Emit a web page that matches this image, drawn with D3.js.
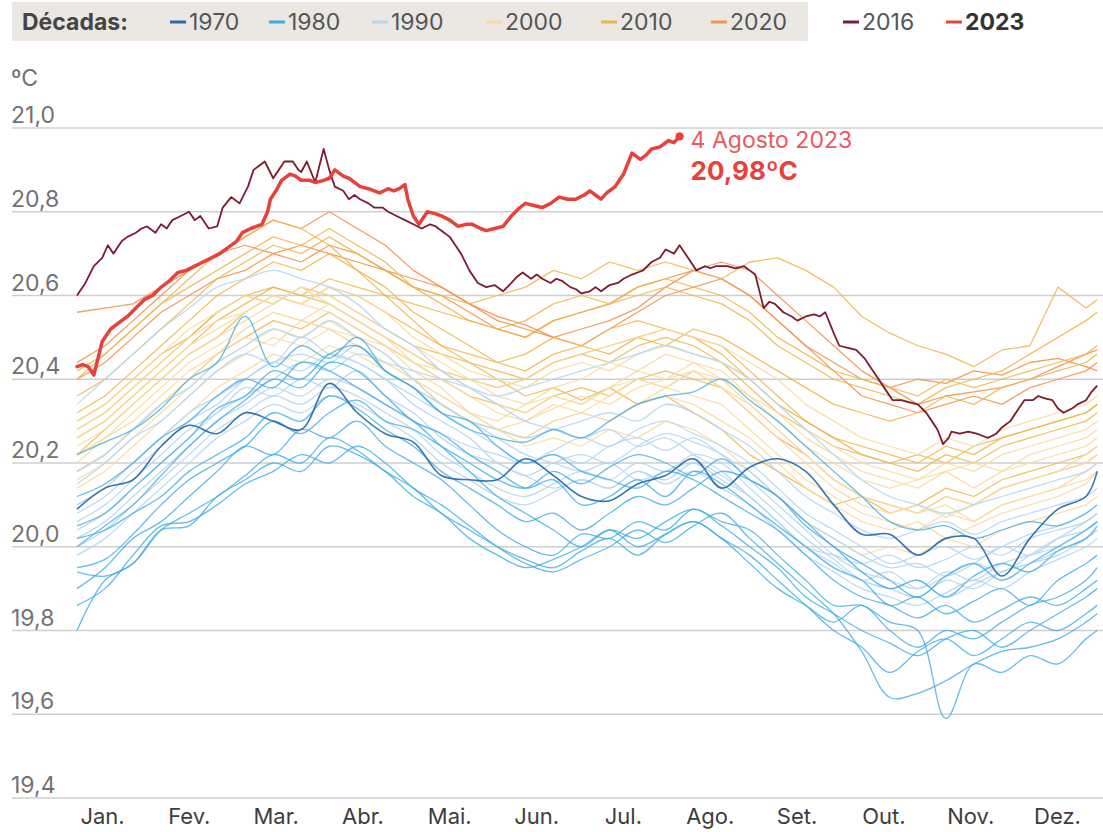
<!DOCTYPE html>
<html><head><meta charset="utf-8">
<script src="https://cdn.jsdelivr.net/npm/d3@7"></script>
<style>
body{margin:0;background:#fff;}
svg{display:block;font-family:Inter,"Noto Sans",sans-serif;}
</style></head><body>
<svg id="chart" width="1103" height="832"></svg>
<script>
// ---------- DATA ----------
const gridDays = [0,10,20,30,40,50,60,70,80,90,100,110,120,130,140,150,160,170,180,190,200,210,220,230,240,250,260,270,280,290,300,310,320,330,340,350,360,364];
const months = ["Jan.","Fev.","Mar.","Abr.","Mai.","Jun.","Jul.","Ago.","Set.","Out.","Nov.","Dez."];
const yTicks = [19.4,19.6,19.8,20.0,20.2,20.4,20.6,20.8,21.0];
const legendDecades = ["1970","1980","1990","2000","2010","2020"];
const legendHighlights = ["2016","2023"];

const temps1970s = [
 [20.09,20.14,20.16,20.24,20.29,20.27,20.32,20.30,20.28,20.39, 20.32,20.27,20.25,20.17,20.16,20.16,20.21,20.17,20.12,20.11, 20.15,20.17,20.21,20.14,20.19,20.21,20.18,20.10,20.03,20.03, 19.98,20.02,20.02,19.93,20.02,20.09,20.12,20.18]
];
const temps1980s = [
 [20.00,20.05,20.10,20.17,20.24,20.30,20.35,20.40,20.38,20.44, 20.42,20.36,20.30,20.27,20.22,20.18,20.14,20.16,20.10,20.12, 20.16,20.12,20.18,20.15,20.10,20.05,20.00,19.95,19.92,19.86, 19.88,19.84,19.87,19.90,19.86,19.92,19.96,19.98],
 [19.90,19.95,20.02,20.06,20.12,20.18,20.24,20.22,20.28,20.26, 20.30,20.24,20.20,20.16,20.10,20.04,20.00,19.98,20.03,20.02, 20.06,20.04,20.09,20.05,20.00,19.95,19.88,19.84,19.80,19.77, 19.74,19.78,19.80,19.76,19.80,19.84,19.88,19.90],
 [19.95,19.97,20.03,20.10,20.16,20.20,20.24,20.30,20.27,20.32, 20.35,20.30,20.28,20.24,20.20,20.16,20.14,20.18,20.15,20.19, 20.22,20.20,20.17,20.21,20.16,20.12,20.05,20.00,19.94,19.90, 19.92,19.88,19.93,19.96,19.94,19.99,20.02,20.05],
 [20.22,20.25,20.28,20.33,20.40,20.44,20.55,20.43,20.48,20.45, 20.50,20.42,20.38,20.32,20.30,20.24,20.20,20.22,20.18,20.16, 20.14,20.18,20.16,20.12,20.08,20.04,19.98,19.92,19.88,19.86, 19.83,19.86,19.82,19.85,19.88,19.86,19.90,19.92],
 [19.94,19.93,19.96,20.04,20.08,20.12,20.17,20.22,20.20,20.26, 20.23,20.18,20.14,20.08,20.04,20.00,19.97,19.95,19.99,20.02, 19.98,20.03,20.06,20.02,19.98,19.92,19.86,19.80,19.76,19.70, 19.75,19.78,19.74,19.78,19.82,19.80,19.84,19.86],
 [19.86,19.90,19.98,20.05,20.06,20.10,20.15,20.18,20.22,20.20, 20.24,20.20,20.14,20.10,20.05,20.00,19.96,19.94,19.97,20.00, 20.04,20.01,20.05,20.08,20.02,19.96,19.90,19.84,19.75,19.64, 19.65,19.68,19.72,19.75,19.76,19.78,19.82,19.84],
 [20.02,20.04,20.08,20.12,20.18,20.22,20.26,20.32,20.30,20.36, 20.33,20.28,20.24,20.18,20.14,20.10,20.06,20.08,20.04,20.08, 20.12,20.10,20.14,20.18,20.16,20.12,20.06,20.00,19.96,19.92, 19.88,19.93,19.96,19.92,19.96,20.00,20.04,20.06],
 [20.05,20.08,20.14,20.20,20.26,20.33,20.36,20.42,20.40,20.46, 20.48,20.42,20.38,20.32,20.28,20.26,20.25,20.28,20.26,20.30, 20.34,20.36,20.37,20.40,20.35,20.30,20.24,20.18,20.12,20.06, 20.04,20.05,20.02,20.04,20.06,20.05,20.08,20.10],
 [20.12,20.15,20.20,20.26,20.30,20.36,20.40,20.38,20.44,20.42, 20.38,20.34,20.30,20.24,20.18,20.12,20.08,20.04,20.00,20.04, 20.00,20.03,20.06,20.02,19.96,19.90,19.86,19.82,19.86,19.80, 19.76,19.80,19.78,19.82,19.86,19.88,19.92,19.95],
 [19.80,19.92,19.96,20.04,20.05,20.12,20.16,20.20,20.18,20.24, 20.22,20.18,20.12,20.08,20.02,19.98,19.95,19.97,20.00,20.04, 20.02,20.06,20.09,20.06,20.04,19.98,19.92,19.86,19.86,19.82, 19.80,19.59,19.72,19.70,19.74,19.72,19.78,19.80]
];
const temps1990s = [
 [20.10,20.14,20.20,20.26,20.32,20.36,20.40,20.44,20.42,20.46, 20.44,20.40,20.36,20.32,20.28,20.24,20.20,20.22,20.20,20.24, 20.26,20.23,20.26,20.22,20.18,20.12,20.06,20.02,19.98,19.95, 19.96,19.93,19.96,20.00,19.98,20.02,20.06,20.08],
 [20.06,20.10,20.16,20.22,20.28,20.32,20.38,20.36,20.40,20.38, 20.42,20.36,20.32,20.26,20.22,20.20,20.17,20.20,20.22,20.20, 20.24,20.27,20.25,20.22,20.16,20.10,20.04,19.98,19.94,19.92, 19.90,19.94,19.92,19.96,19.98,20.00,20.04,20.06],
 [20.15,20.20,20.26,20.30,20.36,20.42,20.46,20.44,20.50,20.46, 20.44,20.40,20.34,20.30,20.26,20.20,20.17,20.14,20.16,20.14, 20.18,20.15,20.18,20.14,20.10,20.04,19.98,19.94,19.90,19.88, 19.86,19.89,19.92,19.90,19.94,19.97,20.00,20.02],
 [20.02,20.06,20.12,20.18,20.24,20.30,20.34,20.38,20.36,20.40, 20.38,20.34,20.30,20.27,20.24,20.22,20.20,20.23,20.26,20.24, 20.28,20.30,20.27,20.24,20.20,20.14,20.08,20.04,20.00,19.96, 19.98,20.00,19.97,20.00,20.03,20.05,20.08,20.10],
 [20.08,20.12,20.18,20.24,20.30,20.34,20.40,20.44,20.46,20.44, 20.48,20.42,20.38,20.34,20.30,20.28,20.26,20.28,20.30,20.32, 20.30,20.34,20.32,20.28,20.24,20.18,20.12,20.08,20.04,20.02, 20.04,20.06,20.03,20.06,20.08,20.10,20.12,20.14],
 [20.18,20.22,20.28,20.34,20.38,20.44,20.48,20.52,20.50,20.54, 20.50,20.46,20.40,20.34,20.30,20.26,20.22,20.20,20.18,20.20, 20.16,20.18,20.20,20.16,20.12,20.06,20.00,19.96,19.92,19.94, 19.90,19.93,19.96,19.94,19.98,20.02,20.04,20.06],
 [20.00,20.04,20.10,20.16,20.22,20.28,20.32,20.36,20.34,20.38, 20.36,20.32,20.28,20.22,20.18,20.14,20.12,20.15,20.18,20.16, 20.20,20.18,20.22,20.20,20.14,20.08,20.02,19.97,19.92,19.90, 19.88,19.92,19.90,19.94,19.96,19.98,20.02,20.04],
 [20.04,20.08,20.14,20.20,20.26,20.32,20.36,20.40,20.44,20.42, 20.46,20.44,20.42,20.40,20.38,20.36,20.38,20.40,20.42,20.44, 20.46,20.48,20.46,20.44,20.40,20.34,20.28,20.22,20.16,20.12, 20.10,20.08,20.10,20.12,20.14,20.16,20.18,20.20],
 [20.34,20.40,20.46,20.52,20.57,20.62,20.64,20.66,20.64,20.62, 20.58,20.52,20.48,20.42,20.38,20.34,20.30,20.28,20.26,20.28, 20.24,20.26,20.22,20.18,20.12,20.06,20.00,19.98,19.96,19.98, 19.95,19.97,20.00,19.98,20.02,20.04,20.06,20.08],
 [19.98,20.02,20.08,20.14,20.20,20.26,20.30,20.34,20.32,20.36, 20.34,20.30,20.26,20.20,20.16,20.12,20.10,20.13,20.16,20.14, 20.18,20.16,20.20,20.17,20.12,20.06,20.00,19.95,19.92,19.90, 19.92,19.88,19.91,19.94,19.96,19.99,20.02,20.04]
];
const temps2000s = [
 [20.18,20.22,20.28,20.34,20.40,20.46,20.50,20.48,20.54,20.52, 20.48,20.44,20.40,20.34,20.30,20.28,20.26,20.30,20.32,20.30, 20.34,20.36,20.34,20.30,20.26,20.20,20.14,20.10,20.06,20.04, 20.06,20.02,20.05,20.08,20.10,20.12,20.15,20.18],
 [20.20,20.26,20.30,20.36,20.42,20.46,20.52,20.56,20.54,20.58, 20.54,20.50,20.46,20.42,20.38,20.34,20.32,20.36,20.34,20.38, 20.40,20.38,20.42,20.38,20.34,20.28,20.22,20.16,20.12,20.10, 20.08,20.12,20.10,20.14,20.16,20.18,20.22,20.24],
 [20.26,20.30,20.36,20.42,20.48,20.52,20.56,20.60,20.58,20.62, 20.60,20.56,20.50,20.46,20.42,20.40,20.38,20.42,20.44,20.42, 20.46,20.48,20.46,20.44,20.40,20.34,20.28,20.24,20.20,20.18, 20.16,20.20,20.18,20.22,20.24,20.26,20.28,20.30],
 [20.30,20.34,20.40,20.46,20.52,20.56,20.60,20.58,20.62,20.58, 20.54,20.50,20.44,20.40,20.36,20.32,20.30,20.33,20.36,20.34, 20.38,20.40,20.42,20.38,20.32,20.26,20.20,20.14,20.10,20.08, 20.10,20.07,20.10,20.14,20.16,20.18,20.20,20.22],
 [20.22,20.26,20.32,20.38,20.44,20.48,20.52,20.56,20.54,20.52, 20.48,20.44,20.40,20.36,20.32,20.30,20.34,20.36,20.34,20.38, 20.42,20.40,20.44,20.42,20.36,20.30,20.24,20.20,20.16,20.14, 20.16,20.18,20.14,20.18,20.20,20.22,20.24,20.26],
 [20.24,20.28,20.34,20.40,20.46,20.50,20.54,20.58,20.62,20.60, 20.56,20.52,20.48,20.44,20.40,20.36,20.34,20.38,20.40,20.44, 20.42,20.46,20.44,20.40,20.34,20.28,20.22,20.16,20.12,20.10, 20.08,20.10,20.06,20.10,20.12,20.14,20.18,20.20],
 [20.16,20.20,20.26,20.32,20.38,20.44,20.48,20.52,20.50,20.54, 20.50,20.46,20.40,20.36,20.32,20.28,20.30,20.34,20.32,20.36, 20.40,20.38,20.42,20.40,20.36,20.32,20.26,20.22,20.18,20.16, 20.14,20.18,20.20,20.18,20.22,20.24,20.26,20.28],
 [20.28,20.32,20.38,20.44,20.50,20.54,20.56,20.60,20.58,20.56, 20.52,20.48,20.42,20.38,20.32,20.28,20.24,20.26,20.24,20.28, 20.26,20.30,20.28,20.24,20.18,20.12,20.06,20.02,19.98,20.00, 19.98,20.02,20.00,20.04,20.06,20.08,20.10,20.12],
 [20.10,20.14,20.20,20.26,20.32,20.38,20.42,20.46,20.44,20.48, 20.46,20.42,20.38,20.34,20.30,20.28,20.26,20.30,20.32,20.30, 20.34,20.38,20.36,20.34,20.28,20.22,20.16,20.12,20.08,20.06, 20.04,20.08,20.06,20.10,20.12,20.14,20.16,20.18],
 [20.14,20.18,20.24,20.30,20.36,20.42,20.46,20.50,20.48,20.52, 20.50,20.48,20.44,20.42,20.40,20.38,20.40,20.44,20.46,20.48, 20.50,20.52,20.50,20.48,20.44,20.40,20.34,20.30,20.26,20.24, 20.22,20.26,20.24,20.28,20.30,20.32,20.34,20.36]
];
const temps2010s = [
 [20.40,20.46,20.52,20.58,20.64,20.70,20.74,20.78,20.76,20.72, 20.66,20.60,20.54,20.48,20.44,20.40,20.36,20.38,20.35,20.38, 20.34,20.36,20.32,20.28,20.22,20.18,20.14,20.10,20.12,20.08, 20.10,20.14,20.12,20.16,20.18,20.20,20.22,20.24],
 [20.18,20.22,20.28,20.34,20.40,20.46,20.50,20.54,20.52,20.56, 20.52,20.48,20.44,20.40,20.36,20.34,20.32,20.36,20.38,20.36, 20.40,20.42,20.40,20.38,20.32,20.26,20.22,20.16,20.12,20.10, 20.08,20.12,20.10,20.14,20.16,20.18,20.20,20.22],
 [20.22,20.28,20.34,20.40,20.46,20.50,20.56,20.60,20.58,20.62, 20.60,20.56,20.52,20.48,20.46,20.44,20.46,20.50,20.48,20.52, 20.54,20.52,20.50,20.48,20.42,20.36,20.30,20.26,20.22,20.20, 20.22,20.20,20.24,20.26,20.28,20.30,20.32,20.34],
 [20.28,20.32,20.38,20.44,20.50,20.56,20.60,20.58,20.62,20.60, 20.56,20.52,20.48,20.46,20.44,20.42,20.40,20.44,20.46,20.44, 20.48,20.50,20.48,20.44,20.38,20.32,20.28,20.24,20.22,20.20, 20.18,20.22,20.20,20.24,20.26,20.28,20.30,20.32],
 [20.26,20.30,20.36,20.42,20.48,20.54,20.58,20.62,20.60,20.64, 20.62,20.60,20.58,20.56,20.54,20.52,20.54,20.58,20.60,20.58, 20.62,20.64,20.62,20.60,20.56,20.50,20.46,20.42,20.40,20.38, 20.36,20.40,20.38,20.40,20.42,20.44,20.46,20.48],
 [20.36,20.40,20.46,20.52,20.58,20.64,20.68,20.72,20.70,20.74, 20.70,20.66,20.62,20.60,20.58,20.60,20.62,20.66,20.64,20.68, 20.66,20.68,20.66,20.64,20.68,20.69,20.66,20.62,20.55,20.51, 20.48,20.46,20.43,20.47,20.48,20.62,20.57,20.59],
 [20.32,20.36,20.42,20.48,20.54,20.60,20.64,20.68,20.66,20.70, 20.66,20.62,20.56,20.52,20.48,20.44,20.42,20.46,20.48,20.46, 20.50,20.52,20.50,20.46,20.40,20.34,20.30,20.26,20.24,20.22, 20.20,20.24,20.22,20.26,20.28,20.30,20.32,20.34],
 [20.30,20.34,20.40,20.46,20.50,20.56,20.60,20.62,20.60,20.58, 20.54,20.50,20.46,20.42,20.40,20.38,20.40,20.44,20.46,20.48, 20.50,20.48,20.52,20.50,20.46,20.42,20.38,20.34,20.32,20.30, 20.32,20.36,20.34,20.38,20.40,20.42,20.44,20.46],
 [20.42,20.46,20.52,20.58,20.62,20.66,20.70,20.74,20.72,20.76, 20.72,20.68,20.62,20.58,20.54,20.52,20.50,20.54,20.56,20.58, 20.60,20.62,20.60,20.58,20.54,20.48,20.44,20.40,20.38,20.36, 20.34,20.38,20.40,20.42,20.46,20.50,20.54,20.56]
];
const temps2020s = [
 [20.56,20.57,20.58,20.62,20.66,20.70,20.72,20.70,20.72,20.70, 20.68,20.66,20.64,20.62,20.58,20.55,20.53,20.50,20.52,20.54, 20.57,20.62,20.66,20.68,20.66,20.60,20.54,20.48,20.42,20.38, 20.34,20.36,20.37,20.38,20.40,20.43,20.46,20.47],
 [20.40,20.44,20.50,20.56,20.60,20.64,20.66,20.70,20.68,20.72, 20.70,20.66,20.62,20.60,20.56,20.52,20.50,20.54,20.56,20.58, 20.62,20.64,20.66,20.64,20.60,20.54,20.48,20.44,20.40,20.38, 20.40,20.39,20.42,20.41,20.44,20.45,20.43,20.42],
 [20.44,20.48,20.54,20.60,20.66,20.70,20.74,20.78,20.76,20.80, 20.76,20.72,20.66,20.62,20.58,20.54,20.52,20.50,20.48,20.52, 20.56,20.60,20.62,20.64,20.60,20.54,20.48,20.42,20.36,20.34, 20.32,20.34,20.36,20.34,20.38,20.40,20.42,20.44]
];
const temps2016 = [[0,20.60],[3,20.63],[6,20.67],[9,20.69],[11,20.72],[13,20.70],[16,20.73],[18,20.74],[21,20.75],[23,20.76],[25,20.765],[28,20.75],[30,20.77],[32,20.76],[34,20.78],[37,20.79],[40,20.80],[42,20.78],[44,20.79],[47,20.76],[50,20.765],[52,20.81],[55,20.835],[58,20.82],[61,20.86],[63,20.90],[65,20.91],[67,20.92],[70,20.88],[72,20.90],[74,20.92],[77,20.92],[79,20.90],[80,20.895],[82,20.92],[85,20.87],[88,20.95],[90,20.90],[92,20.86],[95,20.85],[97,20.83],[99,20.84],[101,20.83],[104,20.82],[106,20.81],[109,20.81],[111,20.80],[114,20.79],[117,20.78],[120,20.77],[123,20.76],[126,20.77],[128,20.765],[131,20.75],[133,20.74],[135,20.72],[137,20.70],[140,20.66],[143,20.63],[146,20.62],[149,20.625],[152,20.61],[155,20.63],[157,20.645],[159,20.655],[162,20.64],[164,20.65],[166,20.64],[169,20.63],[171,20.64],[173,20.635],[176,20.62],[178,20.615],[180,20.605],[183,20.61],[185,20.62],[187,20.61],[190,20.625],[193,20.63],[195,20.64],[198,20.65],[200,20.655],[202,20.66],[205,20.68],[208,20.69],[210,20.71],[213,20.70],[215,20.72],[218,20.69],[221,20.66],[224,20.67],[226,20.665],[228,20.67],[232,20.67],[235,20.665],[238,20.67],[240,20.66],[242,20.65],[245,20.57],[247,20.585],[249,20.58],[252,20.56],[255,20.55],[257,20.54],[260,20.55],[263,20.555],[265,20.55],[267,20.56],[270,20.51],[272,20.48],[275,20.475],[278,20.47],[281,20.45],[283,20.43],[285,20.41],[288,20.38],[291,20.35],[294,20.35],[297,20.345],[300,20.34],[303,20.32],[305,20.30],[307,20.28],[309,20.245],[311,20.26],[312,20.275],[315,20.27],[318,20.275],[321,20.27],[323,20.265],[325,20.26],[328,20.27],[330,20.285],[333,20.30],[336,20.33],[338,20.35],[341,20.35],[343,20.36],[345,20.355],[348,20.35],[350,20.33],[352,20.32],[355,20.33],[357,20.34],[360,20.35],[362,20.37],[364,20.385]];
const temps2023 = [[0,20.43],[2,20.435],[4,20.43],[6,20.41],[9,20.49],[12,20.52],[15,20.535],[18,20.55],[21,20.57],[24,20.59],[27,20.60],[30,20.62],[33,20.635],[36,20.655],[39,20.66],[42,20.67],[45,20.68],[48,20.69],[51,20.70],[54,20.715],[57,20.73],[59,20.75],[62,20.76],[64,20.765],[66,20.77],[68,20.80],[69,20.83],[71,20.85],[73,20.875],[76,20.89],[78,20.885],[80,20.875],[83,20.875],[85,20.87],[88,20.875],[90,20.88],[92,20.90],[95,20.885],[97,20.88],[99,20.87],[101,20.86],[104,20.855],[106,20.85],[108,20.845],[111,20.855],[113,20.85],[115,20.855],[117,20.865],[118,20.83],[120,20.79],[122,20.77],[125,20.80],[128,20.795],[130,20.79],[133,20.78],[136,20.765],[139,20.77],[141,20.77],[144,20.76],[146,20.755],[149,20.76],[152,20.765],[155,20.79],[158,20.81],[160,20.82],[163,20.815],[166,20.81],[169,20.82],[172,20.835],[175,20.83],[178,20.83],[181,20.84],[183,20.85],[185,20.84],[187,20.83],[189,20.845],[192,20.86],[195,20.89],[198,20.94],[201,20.925],[203,20.935],[205,20.95],[208,20.955],[211,20.97],[213,20.965],[215,20.98]];
const annotationDate = "4 Agosto 2023";
const annotationValue = "20,98ºC";

// ---------- STYLE ----------
const colors = {"1970":"#2b6cad","1980":"#40ace0","1990":"#b7d7ee","2000":"#f6dda3","2010":"#ebb64c","2020":"#f09552","2016":"#7b1d30","2023":"#e8403a"};
const FS = 23;

const svg = d3.select("#chart");
const W = 1103;
const x = d3.scaleLinear().domain([0,365]).range([77,1100]);
const y = d3.scaleLinear().domain([19.4,21.0]).range([798,128]);

// grid
const grid = svg.append("g");
grid.selectAll("line").data(yTicks).join("line")
  .attr("x1",12).attr("x2",W).attr("y1",d=>y(d)).attr("y2",d=>y(d))
  .attr("stroke","#cfcfcf").attr("stroke-width",1.5);
const fmt = d => d.toFixed(1).replace(".", ",");
grid.selectAll("text").data(yTicks).join("text")
  .attr("x",11).attr("y",d=>y(d)-5).text(fmt)
  .attr("font-size",FS).attr("fill","#727272");
svg.append("text").attr("x",11).attr("y",86).text("ºC").attr("font-size",FS).attr("fill","#727272");

// month axis
const xm = d3.scalePoint().domain(months).range([102,1057]);
const ax = svg.append("g").attr("transform","translate(0,824)")
  .call(d3.axisBottom(xm).tickSize(0).tickPadding(0));
ax.select(".domain").remove();
ax.selectAll("text").attr("font-size",22).attr("fill","#3d3d3d").attr("font-family","Inter,'Noto Sans',sans-serif").attr("dy","0").attr("y",0);

// lines
const lineSmooth = d3.line().x(d=>x(d[0])).y(d=>y(d[1])).curve(d3.curveCatmullRom.alpha(0.5));
const lineLin = d3.line().x(d=>x(d[0])).y(d=>y(d[1]));
const toPts = vals => vals.map((v,i)=>[gridDays[i],v]);
const layers = [
  {key:"2020",data:temps2020s,gen:lineLin,w:1.3,op:0.9},
  {key:"2010",data:temps2010s,gen:lineLin,w:1.3,op:0.85},
  {key:"2000",data:temps2000s,gen:lineLin,w:1.3,op:0.9},
  {key:"1990",data:temps1990s,gen:lineSmooth,w:1.3,op:0.9},
  {key:"1980",data:temps1980s,gen:lineSmooth,w:1.3,op:0.8},
  {key:"1970",data:temps1970s,gen:lineSmooth,w:1.6,op:0.95}
];
const plot = svg.append("g").attr("fill","none");
layers.forEach(L=>{
  plot.append("g").selectAll("path").data(L.data).join("path")
    .attr("d",v=>L.gen(toPts(v)))
    .attr("stroke",colors[L.key]).attr("stroke-width",L.w).attr("stroke-opacity",L.op)
    .attr("stroke-linejoin","round");
});
plot.append("path").attr("d",lineLin(temps2016)).attr("stroke",colors["2016"]).attr("stroke-width",1.8).attr("stroke-linejoin","round");
plot.append("path").attr("d",lineLin(temps2023)).attr("stroke",colors["2023"]).attr("stroke-width",3.5).attr("stroke-linejoin","round").attr("stroke-linecap","round");
const last = temps2023[temps2023.length-1];
svg.append("circle").attr("cx",x(last[0])).attr("cy",y(last[1])).attr("r",4.2).attr("fill",colors["2023"]);
svg.append("text").attr("x",x(last[0])+11).attr("y",y(last[1])+12).text(annotationDate)
  .attr("font-size",FS).attr("fill","#e85a5f");
svg.append("text").attr("x",x(last[0])+11).attr("y",y(last[1])+44).text(annotationValue)
  .attr("font-size",26).attr("font-weight",700).attr("fill","#e8403a");

// legend
const lg = svg.append("g");
lg.append("rect").attr("x",12).attr("y",2).attr("width",796).attr("height",39).attr("fill","#ebe7e3");
lg.append("text").attr("x",22).attr("y",30).text("Décadas:").attr("font-size",FS).attr("font-weight",700).attr("fill","#454545");
const legItems = legendDecades.concat(legendHighlights);
const legX = [170,269,372,486,601,711,843,946];
legItems.forEach((k,i)=>{
  lg.append("line").attr("x1",legX[i]).attr("x2",legX[i]+16).attr("y1",22).attr("y2",22)
    .attr("stroke",colors[k]).attr("stroke-width",3);
  lg.append("text").attr("x",legX[i]+19).attr("y",30).text(k).attr("font-size",FS)
    .attr("fill", k==="2023" ? "#333" : "#555").attr("font-weight", k==="2023"?700:400);
});
</script>
</body></html>
